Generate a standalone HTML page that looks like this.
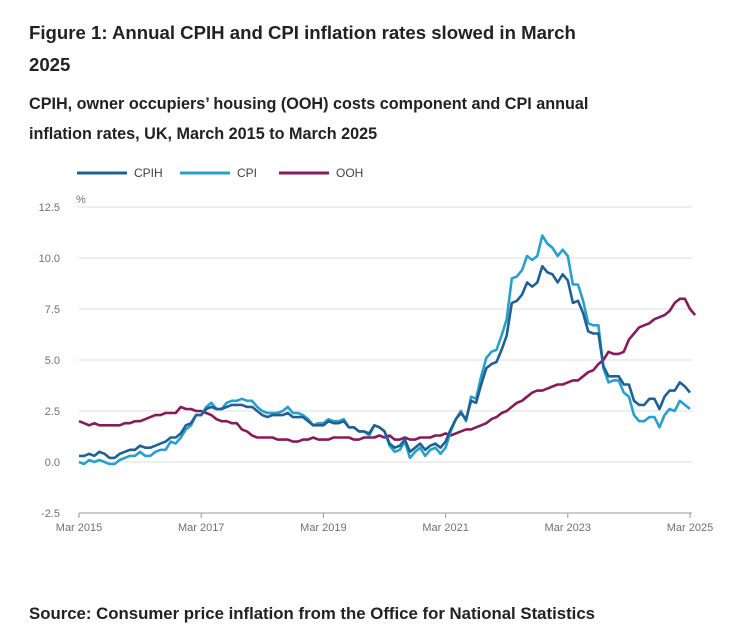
<!DOCTYPE html>
<html><head><meta charset="utf-8">
<style>
body{margin:0;background:#fff;font-family:"Liberation Sans",sans-serif;color:#222;}
.t{position:absolute;left:29px;font-weight:bold;}
</style></head><body>
<div style="position:relative;width:740px;height:631px;overflow:hidden">
<div class="t" style="top:17px;font-size:18.6px;line-height:32px;width:580px">Figure 1: Annual CPIH and CPI inflation rates slowed in March 2025</div>
<div class="t" style="top:89px;font-size:16.2px;line-height:30px;width:605px">CPIH, owner occupiers’ housing (OOH) costs component and CPI annual inflation rates, UK, March 2015 to March 2025</div>
<svg id="c" width="740" height="631" style="position:absolute;left:0;top:0" font-family="Liberation Sans, sans-serif"></svg>
<div class="t" style="top:604px;font-size:16.8px">Source: Consumer price inflation from the Office for National Statistics</div>
</div>
<script>
const cpih=[0.3,0.3,0.4,0.3,0.5,0.4,0.2,0.2,0.4,0.5,0.6,0.6,0.8,0.7,0.7,0.8,0.9,1.0,1.2,1.2,1.4,1.8,1.9,2.3,2.3,2.6,2.7,2.6,2.6,2.7,2.8,2.8,2.8,2.7,2.7,2.5,2.3,2.2,2.3,2.3,2.3,2.4,2.2,2.2,2.2,2.0,1.8,1.8,1.8,2.0,1.9,1.9,2.0,1.7,1.7,1.5,1.5,1.4,1.8,1.7,1.5,0.9,0.7,0.8,1.1,0.5,0.7,0.9,0.6,0.8,0.9,0.7,1.0,1.6,2.1,2.4,2.1,3.0,2.9,3.8,4.6,4.8,4.9,5.5,6.2,7.8,7.9,8.2,8.8,8.6,8.8,9.6,9.3,9.2,8.8,9.2,8.9,7.8,7.9,7.3,6.4,6.3,6.3,4.7,4.2,4.2,4.2,3.8,3.8,3.0,2.8,2.8,3.1,3.1,2.6,3.2,3.5,3.5,3.9,3.7,3.4];
const cpi=[0.0,-0.1,0.1,0.0,0.1,0.0,-0.1,-0.1,0.1,0.2,0.3,0.3,0.5,0.3,0.3,0.5,0.6,0.6,1.0,0.9,1.2,1.6,1.8,2.3,2.3,2.7,2.9,2.6,2.6,2.9,3.0,3.0,3.1,3.0,3.0,2.7,2.5,2.4,2.4,2.4,2.5,2.7,2.4,2.4,2.3,2.1,1.8,1.9,1.9,2.1,2.0,2.0,2.1,1.7,1.7,1.5,1.5,1.3,1.8,1.7,1.5,0.8,0.5,0.6,1.0,0.2,0.5,0.7,0.3,0.6,0.7,0.4,0.7,1.5,2.1,2.5,2.0,3.2,3.1,4.2,5.1,5.4,5.5,6.2,7.0,9.0,9.1,9.4,10.1,9.9,10.1,11.1,10.7,10.5,10.1,10.4,10.1,8.7,8.7,7.9,6.8,6.7,6.7,4.6,3.9,4.0,4.0,3.4,3.2,2.3,2.0,2.0,2.2,2.2,1.7,2.3,2.6,2.5,3.0,2.8,2.6];
const ooh=[2.0,1.9,1.8,1.9,1.8,1.8,1.8,1.8,1.8,1.9,1.9,2.0,2.0,2.1,2.2,2.3,2.3,2.4,2.4,2.4,2.7,2.6,2.6,2.5,2.5,2.4,2.3,2.1,2.0,2.0,1.9,1.9,1.6,1.5,1.3,1.2,1.2,1.2,1.2,1.1,1.1,1.1,1.0,1.0,1.1,1.1,1.2,1.1,1.1,1.1,1.2,1.2,1.2,1.2,1.1,1.1,1.2,1.2,1.2,1.3,1.2,1.3,1.1,1.1,1.2,1.1,1.1,1.2,1.2,1.2,1.3,1.3,1.4,1.3,1.4,1.5,1.6,1.6,1.7,1.8,1.9,2.1,2.2,2.4,2.5,2.7,2.9,3.0,3.2,3.4,3.5,3.5,3.6,3.7,3.8,3.8,3.9,4.0,4.0,4.2,4.4,4.5,4.8,5.0,5.4,5.3,5.3,5.4,6.0,6.3,6.6,6.7,6.8,7.0,7.1,7.2,7.4,7.8,8.0,8.0,7.5,7.2];
const yTicks=[12.5,10.0,7.5,5.0,2.5,0.0,-2.5];
const xTickLabels=["Mar 2015","Mar 2017","Mar 2019","Mar 2021","Mar 2023","Mar 2025"];
const xTickIdx=[0,24,48,72,96,120];
const seriesNames=["CPIH","CPI","OOH"];
const colors=["#206095","#27a0cc","#871a5b"];
const svg=document.getElementById('c');const NS='http://www.w3.org/2000/svg';
const x=i=>79+i*(690-79)/120, y=v=>462-v*20.4;
function mk(t,a,p){const e=document.createElementNS(NS,t);for(const k in a)e.setAttribute(k,a[k]);(p||svg).appendChild(e);return e;}
yTicks.forEach(v=>{
 const g=mk('line',{x1:79,x2:692,y1:y(v),y2:y(v),stroke:v===-2.5?'#999':'#ddd','stroke-width':1});
 
 
 const t=mk('text',{x:60,y:y(v)+4,'text-anchor':'end','font-size':11,fill:'#707070'});t.textContent=v.toFixed(1);
 
 
});
const u=mk('text',{x:76,y:203,'font-size':11,fill:'#707070'});u.textContent='%';


xTickIdx.forEach((i,k)=>{
 const tk=mk('line',{x1:x(i),x2:x(i),y1:513,y2:518,stroke:'#999'});
 
 
 const t=mk('text',{x:x(i),y:531,'text-anchor':'middle','font-size':11,fill:'#707070'});t.textContent=xTickLabels[k];
 
 
});
[ooh,cpi,cpih].forEach((s,j)=>{
 const ci=[2,1,0][j];
 const p=mk('path',{d:s.map((v,i)=>(i?'L':'M')+x(i).toFixed(1)+','+y(v).toFixed(1)).join(''),fill:'none',stroke:colors[ci],'stroke-width':2.6,'stroke-linejoin':'round'});
 
 
});
const lx=[77,180,279];
seriesNames.forEach((n,k)=>{
 const g=mk('g',{});
 
 
 mk('line',{x1:lx[k],x2:lx[k]+50,y1:173,y2:173,stroke:colors[k],'stroke-width':3},g);
 const t=mk('text',{x:lx[k]+57,y:177,'font-size':12,fill:'#414042'},g);t.textContent=n;
});
</script>
</body></html>
